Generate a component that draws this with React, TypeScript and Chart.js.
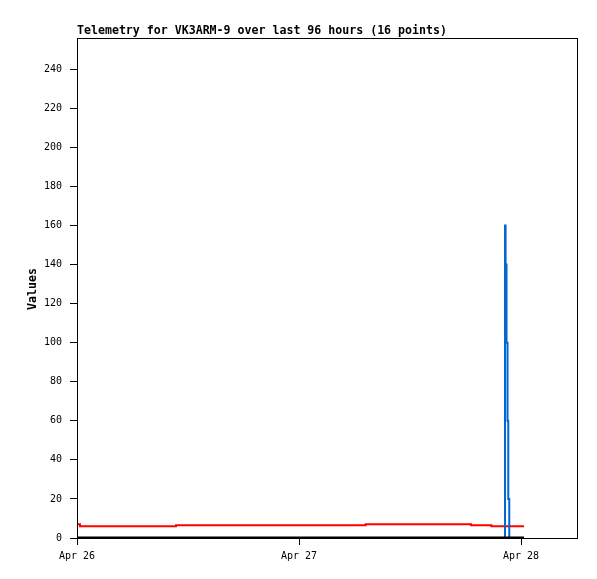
import React, { useEffect, useRef } from 'react';
import { Chart, registerables } from 'chart.js';

Chart.register(...registerables);

const titleText = 'Telemetry for VK3ARM-9 over last 96 hours (16 points)';
const yAxisTitle = 'Values';

// x positions: hours since Apr 26 00:00
const hours = [0.11, 0.32, 10.7, 31.2, 42.6, 44.8, 46.27, 46.33, 46.43, 46.54, 46.62, 46.73, 48.32];
const seriesRed = [7, 6, 6.5, 7, 6.5, 6, 6, 6, 6, 6, 6, 6, 6];
const seriesBlue = [0, 0, 0, 0, 0, 0, 160, 140, 100, 60, 20, 0, 0];
const seriesBlack = [0, 0, 0, 0, 0, 0, 0, 0, 0, 0, 0, 0, 0];

const xTickHours = [0, 24, 48];
const xTickLabels = ['Apr 26', 'Apr 27', 'Apr 28'];
const yTickStep = 20;
const xMax = 54.05;
const yMax = 256;

const FONT = '"DejaVu Sans Mono", monospace';

const framePlugin = {
  id: 'frame',
  beforeDatasetsDraw(chart: any) {
    const { ctx, chartArea: a } = chart;
    ctx.save();
    ctx.strokeStyle = '#000';
    ctx.lineWidth = 1;
    ctx.strokeRect(a.left + 0.5, a.top + 0.5, a.right - a.left, a.bottom - a.top);
    ctx.restore();
  },
  afterDraw(chart: any) {
    const ctx = chart.ctx;
    ctx.save();
    ctx.fillStyle = '#000';
    ctx.font = 'bold 11.6px ' + FONT;
    ctx.textBaseline = 'alphabetic';
    ctx.textAlign = 'left';
    ctx.fillText(titleText, 77, 34);
    ctx.translate(36, 289);
    ctx.rotate(-Math.PI / 2);
    ctx.textAlign = 'center';
    ctx.fillText(yAxisTitle, 0, 0);
    ctx.restore();
  },
};

const toPts = (vals: number[]) => hours.map((h, i) => ({ x: h, y: vals[i] }));

export default function App() {
  const ref = useRef<HTMLCanvasElement>(null);
  useEffect(() => {
    document.body.style.margin = '0';
    Chart.defaults.font.family = FONT;
    const chart = new Chart(ref.current as HTMLCanvasElement, {
      type: 'line',
      data: {
        datasets: [
          { label: 'zero', data: toPts(seriesBlack), borderColor: '#000', borderWidth: 3, pointRadius: 0, stepped: 'before' },
          { label: 'blue', data: toPts(seriesBlue), borderColor: 'rgb(0,102,210)', borderWidth: 2, pointRadius: 0, stepped: 'before' },
          { label: 'red', data: toPts(seriesRed), borderColor: '#ff0000', borderWidth: 2, pointRadius: 0, stepped: 'before' },
        ],
      },
      options: {
        responsive: false,
        devicePixelRatio: 1,
        animation: false,
        events: [],
        layout: { padding: { top: 38, right: 20, bottom: 0, left: 0 } },
        plugins: { legend: { display: false }, tooltip: { enabled: false }, title: { display: false } },
        scales: {
          x: {
            type: 'linear',
            min: 0,
            max: xMax,
            afterBuildTicks: (s: any) => { s.ticks = xTickHours.map((v) => ({ value: v })); },
            afterFit: (s: any) => { s.height = 41; },
            border: { display: false },
            grid: { drawOnChartArea: false, drawTicks: true, tickLength: 7, color: '#000', lineWidth: 1 },
            ticks: {
              autoSkip: false,
              maxRotation: 0,
              padding: 5,
              color: '#000',
              font: { size: 10, family: FONT },
              callback: (v: any) => { const i = xTickHours.indexOf(Number(v)); return i >= 0 ? xTickLabels[i] : ''; },
            },
          },
          y: {
            type: 'linear',
            min: 0,
            max: yMax,
            afterBuildTicks: (s: any) => { s.ticks = s.ticks.filter((t: any) => t.value % yTickStep === 0); },
            afterFit: (s: any) => { s.width = 77; },
            border: { display: false },
            grid: { drawOnChartArea: false, drawTicks: true, tickLength: 7, color: '#000', lineWidth: 1 },
            ticks: { stepSize: yTickStep, padding: 8, color: '#000', font: { size: 10, family: FONT } },
          },
        },
      },
      plugins: [framePlugin],
    } as any);
    return () => chart.destroy();
  }, []);
  return (
    <div style={{ position: 'absolute', left: 0, top: 0, width: 597, height: 579, background: '#fff' }}>
      <canvas ref={ref} width={597} height={579} style={{ display: 'block', width: 597, height: 579 }} />
    </div>
  );
}
